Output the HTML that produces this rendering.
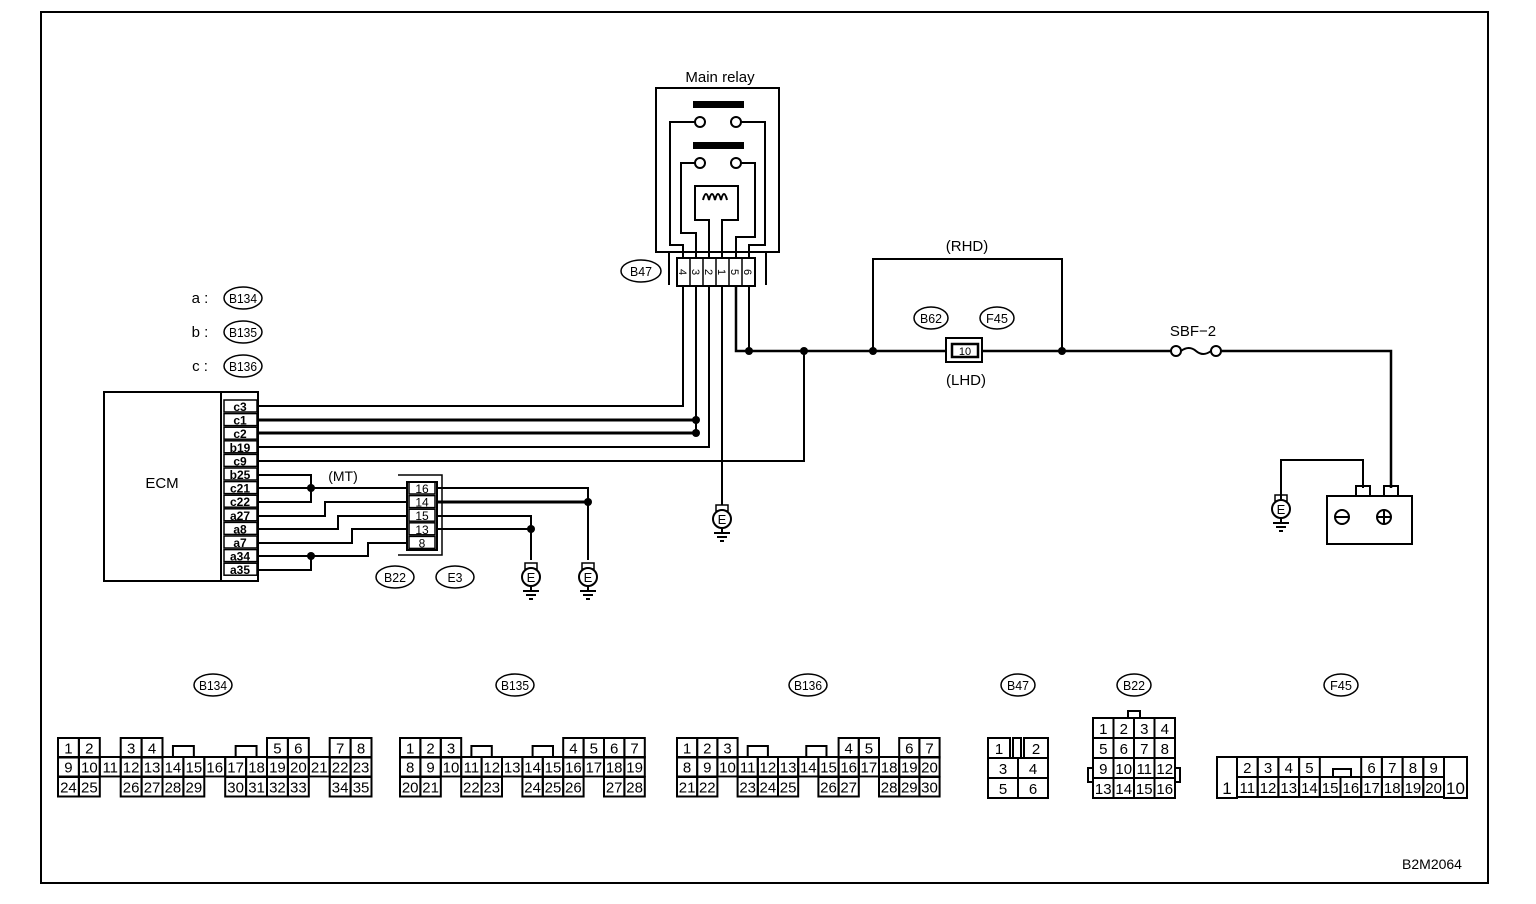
<!DOCTYPE html>
<html><head><meta charset="utf-8"><style>
html,body{margin:0;padding:0;background:#fff;}
svg{display:block;}
text{font-family:"Liberation Sans",sans-serif;fill:#000;}
</style></head><body>
<svg id="s" width="1536" height="904" viewBox="0 0 1536 904" xmlns="http://www.w3.org/2000/svg" stroke="#000" fill="none" stroke-width="2">
<rect x="41" y="12" width="1447" height="871" stroke-width="2"/>
<text x="720" y="82" font-size="15" text-anchor="middle" stroke="none">Main relay</text>
<rect x="656" y="88" width="123" height="164"/>
<rect x="694" y="102" width="49" height="5" fill="#000"/>
<circle cx="700" cy="122" r="5"/><circle cx="736" cy="122" r="5"/>
<polyline points="695,122 670,122 670,245 683,245 683,258"/>
<polyline points="741,122 765,122 765,245 749,245 749,258"/>
<rect x="694" y="143" width="49" height="5" fill="#000"/>
<circle cx="700" cy="163" r="5"/><circle cx="736" cy="163" r="5"/>
<polyline points="695,163 681,163 681,233 696,233 696,258"/>
<polyline points="741,163 755,163 755,237 736,237 736,258"/>
<path d="M709,258 V220 H695 V186 H738 V220 H722 V258"/>
<path d="M703,200 q3,-12 6,0 q3,-12 6,0 q3,-12 6,0 q3,-12 6,0" stroke-width="2"/>
<line x1="669" y1="252" x2="669" y2="285"/><line x1="766" y1="252" x2="766" y2="285"/>
<rect x="677" y="258" width="78" height="28"/>
<g stroke-width="1.5"><line x1="690" y1="258" x2="690" y2="286"/><line x1="703" y1="258" x2="703" y2="286"/><line x1="716" y1="258" x2="716" y2="286"/><line x1="729" y1="258" x2="729" y2="286"/><line x1="742" y1="258" x2="742" y2="286"/></g>
<g font-size="11" stroke="none">
<text transform="translate(679,272) rotate(90)" text-anchor="middle">4</text>
<text transform="translate(692,272) rotate(90)" text-anchor="middle">3</text>
<text transform="translate(705,272) rotate(90)" text-anchor="middle">2</text>
<text transform="translate(718,272) rotate(90)" text-anchor="middle">1</text>
<text transform="translate(731,272) rotate(90)" text-anchor="middle">5</text>
<text transform="translate(744,272) rotate(90)" text-anchor="middle">6</text>
</g>
<polyline points="683,286 683,406 258,406"/>
<polyline points="696,286 696,433"/>
<line x1="258" y1="420" x2="696" y2="420" stroke-width="3"/>
<line x1="258" y1="433" x2="696" y2="433" stroke-width="3"/>
<polyline points="709,286 709,447 258,447"/>
<polyline points="722,286 722,505"/>
<polyline points="736,286 736,351 1391,351 1391,488" stroke-width="2.5"/>
<line x1="749" y1="286" x2="749" y2="351"/>
<polyline points="258,461 804,461 804,351"/>
<polyline points="873,351 873,259 1062,259 1062,351"/>
<rect x="946" y="338" width="36" height="24" fill="#fff"/>
<rect x="952" y="344" width="26" height="13" stroke-width="2.5"/>
<text x="965" y="355" font-size="11" text-anchor="middle" stroke="none">10</text>
<rect x="1175" y="345" width="38" height="12" fill="#fff" stroke="none"/>
<circle cx="1176" cy="351" r="5" fill="#fff"/><circle cx="1216" cy="351" r="5" fill="#fff"/>
<path d="M1181,351 q8,-6 15,0 q7,6 15,0"/>
<text x="1193" y="336" font-size="15" text-anchor="middle" stroke="none">SBF−2</text>
<text x="967" y="251" font-size="15" text-anchor="middle" stroke="none">(RHD)</text>
<text x="966" y="385" font-size="15" text-anchor="middle" stroke="none">(LHD)</text>
<g fill="#000" stroke="none">
<circle cx="749" cy="351" r="4"/><circle cx="804" cy="351" r="4"/><circle cx="873" cy="351" r="4"/><circle cx="1062" cy="351" r="4"/>
<circle cx="696" cy="420" r="4"/><circle cx="696" cy="433" r="4"/>
<circle cx="311" cy="488" r="4"/><circle cx="311" cy="556" r="4"/>
<circle cx="588" cy="502" r="4"/><circle cx="531" cy="529" r="4"/>
</g>
<polyline points="1281,505 1281,460 1363,460 1363,488"/>
<rect x="1356" y="486" width="14" height="10"/><rect x="1384" y="486" width="14" height="10"/>
<rect x="1327" y="496" width="85" height="48"/>
<circle cx="1342" cy="517" r="7"/><line x1="1336" y1="517" x2="1348" y2="517"/>
<circle cx="1384" cy="517" r="7"/><line x1="1378" y1="517" x2="1390" y2="517"/><line x1="1384" y1="511" x2="1384" y2="523"/>
<rect x="104" y="392" width="154" height="189"/>
<line x1="221" y1="392" x2="221" y2="581"/>
<text x="162" y="488" font-size="15" text-anchor="middle" stroke="none">ECM</text>
<g id="pins"></g>
<text x="343" y="481" font-size="14" text-anchor="middle" stroke="none">(MT)</text>
<polyline points="258,475 311,475 311,502 258,502"/>
<line x1="258" y1="488" x2="407" y2="488"/>
<polyline points="258,516 325,516 325,502 407,502"/>
<polyline points="258,529 338,529 338,516 407,516"/>
<polyline points="258,543 352,543 352,529 407,529"/>
<polyline points="258,556 368,556 368,543 407,543"/>
<polyline points="258,570 311,570 311,556"/>
<polyline points="398,475 442,475 442,555 398,555" stroke-width="1.5"/>
<rect x="407" y="482" width="30" height="68" fill="#fff"/>
<g id="b22"></g>
<polyline points="437,488 588,488 588,560"/>
<line x1="437" y1="502" x2="588" y2="502" stroke-width="3"/>
<polyline points="437,516 531,516 531,560"/>
<line x1="437" y1="529" x2="531" y2="529"/>
<g id="ov"></g>
<g id="gnd"></g>
<g id="conn" stroke-width="2"></g>
<text x="1432" y="869" font-size="14" text-anchor="middle" stroke="none">B2M2064</text>
</svg>
<script>
const NS="http://www.w3.org/2000/svg";
function el(p,tag,a,txt){const e=document.createElementNS(NS,tag);for(const k in a)e.setAttribute(k,a[k]);if(txt!==undefined)e.textContent=txt;document.getElementById(p).appendChild(e);return e;}
const pins=["c3","c1","c2","b19","c9","b25","c21","c22","a27","a8","a7","a34","a35"];
pins.forEach((p,i)=>{const y=406+i*13.6;el("pins","rect",{x:224,y:y-6,width:33,height:12,"stroke-width":1.5});
el("pins","text",{x:240,y:y+5,"font-size":12,"text-anchor":"middle",stroke:"none","font-weight":"bold"},p);});
["16","14","15","13","8"].forEach((p,i)=>{const y=488+i*13.6;el("b22","rect",{x:409,y:y-6,width:26,height:12,"stroke-width":1.5});
el("b22","text",{x:422,y:y+5,"font-size":12,"text-anchor":"middle",stroke:"none"},p);});
function oval(cx,cy,t,w){el("ov","ellipse",{cx:cx,cy:cy,rx:w||19,ry:11,"stroke-width":1.5});el("ov","text",{x:cx,y:cy+5,"font-size":13,"text-anchor":"middle",stroke:"none",textLength:t.length>3?28:(t.length>2?22:15),lengthAdjust:"spacingAndGlyphs"},t);}
oval(641,271,"B47",20);oval(931,318,"B62",17);oval(997,318,"F45",17);
oval(395,577,"B22",19);oval(455,577,"E3",19);
oval(243,298,"B134",19);oval(243,332,"B135",19);oval(243,366,"B136",19);
[["a :",298],["b :",332],["c :",366]].forEach(a=>el("ov","text",{x:200,y:a[1]+5,"font-size":15,"text-anchor":"middle",stroke:"none"},a[0]));
oval(213,685,"B134");oval(515,685,"B135");oval(808,685,"B136");oval(1018,685,"B47",17);oval(1134,685,"B22",17);oval(1341,685,"F45",17);
function gnd(x,y){el("gnd","rect",{x:x-6,y:y-14,width:12,height:6,"stroke-width":1.5});el("gnd","circle",{cx:x,cy:y,r:9,fill:"#fff"});
el("gnd","text",{x:x,y:y+5,"font-size":13,"text-anchor":"middle",stroke:"none"},"E");
el("gnd","line",{x1:x,y1:y+9,x2:x,y2:y+14});el("gnd","line",{x1:x-8,y1:y+14,x2:x+8,y2:y+14});el("gnd","line",{x1:x-5,y1:y+18,x2:x+5,y2:y+18});el("gnd","line",{x1:x-2,y1:y+22,x2:x+2,y2:y+22});}
gnd(722,519);gnd(531,577);gnd(588,577);gnd(1281,509);
function cell(x,y,w,h,t){el("conn","rect",{x:x,y:y,width:w,height:h});if(t!=="")el("conn","text",{x:x+w/2,y:y+h-4,"font-size":h>22?17:15,"text-anchor":"middle",stroke:"none"},t);}
function grid(x0,cw,r1,r2,r3,bumps){const ys=[738,757,777],h=19.5;
r1.forEach(c=>cell(x0+c[0]*cw,ys[0],cw,h,c[1]));
r2.forEach((t,i)=>cell(x0+i*cw,ys[1],cw,h,t));
r3.forEach(c=>cell(x0+c[0]*cw,ys[2],cw,h,c[1]));
bumps.forEach(b=>el("conn","path",{d:`M${x0+b*cw},757 v-11 h${cw} v11`}));}
const rng=(a,b)=>{const r=[];for(let i=a;i<=b;i++)r.push(String(i));return r;};
const ps=(cols,start)=>cols.map((c,i)=>[c,String(start+i)]);
grid(58,20.9,ps([0,1],1).concat(ps([3,4],3),ps([10,11],5),ps([13,14],7)),rng(9,23),
 ps([0,1],24).concat(ps([3,4,5,6],26),ps([8,9,10,11],30),ps([13,14],34)),[5.5,8.5]);
grid(400,20.4,ps([0,1,2],1).concat(ps([8,9,10,11],4)),rng(8,19),
 ps([0,1],20).concat(ps([3,4],22),ps([6,7,8],24),ps([10,11],27)),[3.5,6.5]);
grid(677,20.2,ps([0,1,2],1).concat(ps([8,9],4),ps([11,12],6)),rng(8,20),
 ps([0,1],21).concat(ps([3,4,5],23),ps([7,8],26),ps([10,11,12],28)),[3.5,6.4]);
cell(988,738,22,20,"1");cell(1013,738,8,20,"");cell(1024,738,24,20,"2");
cell(988,758,30,20,"3");cell(1018,758,30,20,"4");cell(988,778,30,20,"5");cell(1018,778,30,20,"6");
el("conn","rect",{x:1128,y:711,width:12,height:7});
for(let r=0;r<4;r++)for(let c=0;c<4;c++)cell(1093+c*20.5,718+r*20,20.5,20,String(r*4+c+1));
el("conn","rect",{x:1088,y:768,width:5,height:14});el("conn","rect",{x:1175,y:768,width:5,height:14});
cell(1217,757,20,41,"1");cell(1444,757,23,41,"10");
[[0,"2"],[1,"3"],[2,"4"],[3,"5"],[6,"6"],[7,"7"],[8,"8"],[9,"9"]].forEach(c=>cell(1237+c[0]*20.7,757,20.7,20,c[1]));
rng(11,20).forEach((t,i)=>cell(1237+i*20.7,777,20.7,20,t));
el("conn","path",{d:"M1333,777 v-8 h18 v8"});
el("conn","line",{x1:1217,y1:757,x2:1467,y2:757});
</script>
</body></html>
